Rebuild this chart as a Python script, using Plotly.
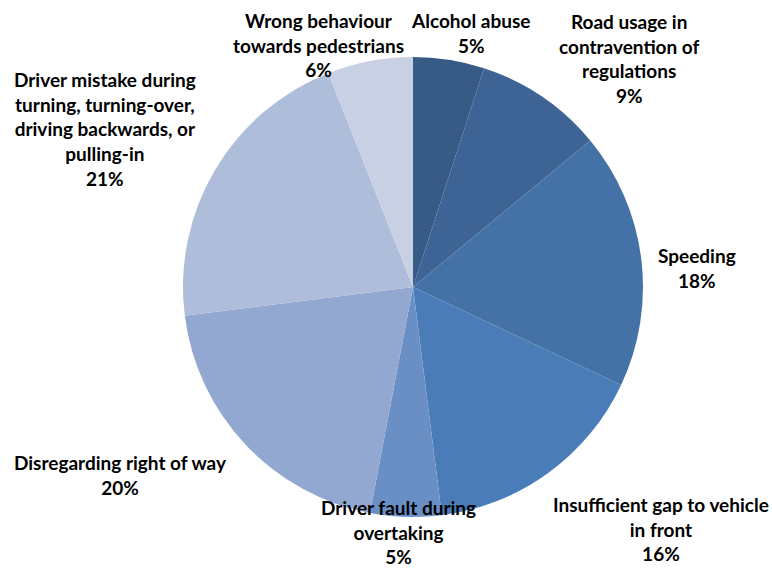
import plotly.graph_objects as go

# Causes of accidents, clockwise from 12 o'clock
causes = [
    "Alcohol abuse",
    "Road usage in<br>contravention of<br>regulations",
    "Speeding",
    "Insufficient gap to vehicle<br>in front",
    "Driver fault during<br>overtaking",
    "Disregarding right of way",
    "Driver mistake during<br>turning, turning-over,<br>driving backwards, or<br>pulling-in",
    "Wrong behaviour<br>towards pedestrians",
]
shares = [5, 9, 18, 16, 5, 20, 21, 6]

colors = ["#385A86", "#3E6496", "#4472A7", "#4A7DB8",
          "#6A8FC4", "#93A8D0", "#AEBDD9", "#C8D0E3"]

# Label anchor points (paper coordinates) for each slice
label_xy = [
    (0.609, 0.942),
    (0.816, 0.897),
    (0.903, 0.529),
    (0.856, 0.069),
    (0.516, 0.064),
    (0.156, 0.163),
    (0.136, 0.773),
    (0.412, 0.920),
]

W, H = 772, 568
fig = go.Figure(go.Pie(
    labels=[c.replace("<br>", " ") for c in causes],
    values=shares,
    sort=False,
    direction="clockwise",
    rotation=0,
    marker=dict(colors=colors, line=dict(width=0)),
    textinfo="none",
    hoverinfo="label+percent",
    domain=dict(x=[183 / W, 643 / W], y=[1 - 517 / H, 1 - 57 / H]),
))

for cause, share, (x, y) in zip(causes, shares, label_xy):
    fig.add_annotation(
        x=x, y=y, xref="paper", yref="paper",
        text=f"<b>{cause}<br>{share}%</b>",
        showarrow=False, xanchor="center", yanchor="middle",
        align="center",
        font=dict(family="Lato, Open Sans, sans-serif", size=19, color="#000000"),
    )

fig.update_layout(
    width=W, height=H,
    margin=dict(l=0, r=0, t=0, b=0),
    paper_bgcolor="white", plot_bgcolor="white",
    showlegend=False,
)

fig.write_html("out.html")
